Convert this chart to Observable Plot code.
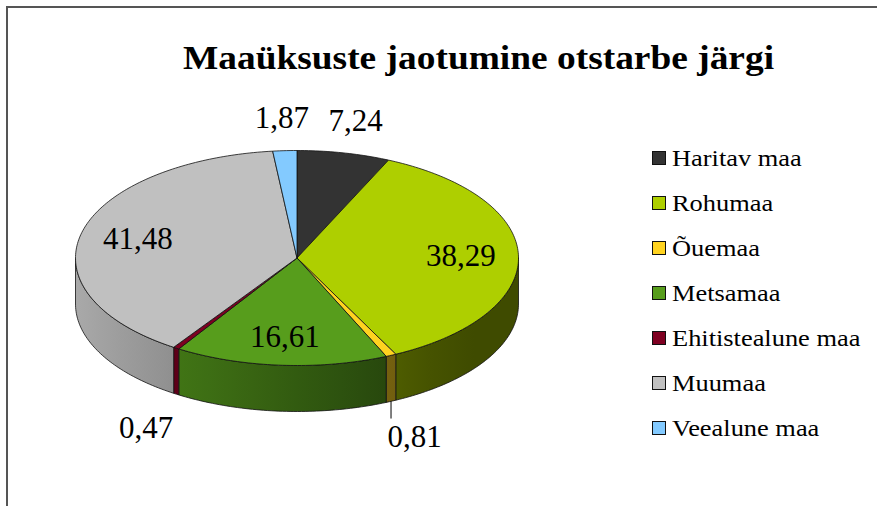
<!DOCTYPE html>
<html>
<head>
<meta charset="utf-8">
<script src="https://cdn.jsdelivr.net/npm/d3@7"></script>
<script src="https://cdn.jsdelivr.net/npm/@observablehq/plot@0.6"></script>
<style>
  html, body { margin: 0; padding: 0; background: #fff; }
  #page { position: relative; width: 877px; height: 506px; overflow: hidden; background: #fff; }
  #frame { position: absolute; left: 6px; top: 6px; width: 1000px; height: 1000px; border: 2px solid #555; box-sizing: border-box; }
  #title { position: relative; height: 95px; box-sizing: border-box; padding-top: 41px; width: 957px; text-align: center;
           font-family: "Liberation Serif", "DejaVu Serif", serif; font-weight: bold; font-size: 34px; line-height: 34px; color: #000;
           transform: scaleX(1.1); transform-origin: 478.5px 50%; }
  #chart { position: absolute; left: 0; top: 95px; }
  #legend { position: absolute; left: 652px; top: 135.5px; font-family: "Liberation Serif", "DejaVu Serif", serif; font-size: 24px; color: #000; }
  .item { display: flex; align-items: center; height: 45px; white-space: nowrap; }
  .item span { display: inline-block; transform: scaleX(1.1); transform-origin: 0 50%; }
  .sw { width: 14px; height: 14px; box-sizing: border-box; border: 1.5px solid #111; margin-right: 6px; }
</style>
</head>
<body>
<div id="page">
  <div id="frame"></div>
  <div id="title">Maaüksuste jaotumine otstarbe järgi</div>
  <div id="chart"></div>
  <div id="legend"></div>
</div>
<script>
// ---- data ----
const categories = ["Haritav maa", "Rohumaa", "Õuemaa", "Metsamaa", "Ehitistealune maa", "Muumaa", "Veealune maa"];
const values = [7.24, 38.29, 0.81, 16.61, 0.47, 41.48, 1.87];
const colors = ["#333333", "#aecf00", "#ffd320", "#579d1c", "#7e0021", "#c0c0c0", "#83caff"];
const leaderFor = ["Õuemaa"];

// ---- layout constants ----
const W = 877, H = 411;
const cx = 296.5, cy = 162.5, rx = 221.5, ry = 107.5, depthPx = 46;
const d = depthPx / ry;               // depth in y-units
const STEP = Math.PI / 180;
const serif = "Liberation Serif, DejaVu Serif, serif";

const fmt = v => v.toFixed(2).replace(".", ",");
const total = d3.sum(values);
const arcs = d3.pie().sort(null).value(v => v)(values);

function shade(hex, u) {
  const f = Math.max(0.36, Math.min(0.92, 0.58 - 0.3 * u));
  const c = d3.rgb(hex);
  return d3.rgb(c.r * f, c.g * f, c.b * f).formatHex();
}
function arcPts(a0, a1, dy) {
  const n = Math.max(1, Math.ceil((a1 - a0) / STEP));
  const pts = [];
  for (let i = 0; i <= n; i++) {
    const a = a0 + (a1 - a0) * i / n;
    pts.push([Math.sin(a), -Math.cos(a) + dy]);
  }
  return pts;
}

// side walls (front half: angles between pi/2 and 3pi/2), one polygon per slice with gradient fill
const sides = [], tops = [];
arcs.forEach((a, i) => {
  const s0 = Math.max(a.startAngle, Math.PI / 2), s1 = Math.min(a.endAngle, 3 * Math.PI / 2);
  if (s1 > s0) {
    const outline = [...arcPts(s0, s1, 0), ...arcPts(s0, s1, d).reverse()];
    outline.push(outline[0]);
    outline.forEach(([x, y]) => sides.push({id: "s" + i, x, y, color: `url(#side-grad-${i})`}));
  }
  const poly = [[0, 0], ...arcPts(a.startAngle, a.endAngle, 0), [0, 0]];
  poly.forEach(([x, y]) => tops.push({id: "t" + i, x, y, color: colors[i]}));
});

// labels
const labels = arcs.map((a, i) => {
  const m = (a.startAngle + a.endAngle) / 2;
  const share = values[i] / total;
  const outside = share < 0.1;
  let x = Math.sin(m) * (outside ? 1.25 : 0.74), y = -Math.cos(m) * (outside ? 1.3 : 0.74);
  if (outside && -Math.cos(m) > 0) y += d + 0.06;
  return {x, y, text: fmt(values[i]), m, name: categories[i]};
});
const leaders = labels.filter(l => leaderFor.includes(l.name)).map(l => ({
  x: Math.sin(l.m), y1: -Math.cos(l.m) + d, y2: -Math.cos(l.m) + d + 0.16
}));

const chart = Plot.plot({
  width: W, height: H,
  margin: 0,
  x: {domain: [-1, 1], range: [cx - rx, cx + rx], axis: null},
  y: {domain: [-1, 1], range: [cy - ry, cy + ry], axis: null},
  color: {type: "identity"},
  style: {background: "transparent"},
  marks: [
    Plot.line(sides, {x: "x", y: "y", z: "id", fill: "color", stroke: "#111", strokeWidth: 0.8, strokeLinejoin: "round"}),
    Plot.line(tops, {x: "x", y: "y", z: "id", fill: "color", stroke: "#111", strokeWidth: 0.8, strokeLinejoin: "round"}),
    Plot.link(leaders, {x1: "x", x2: "x", y1: "y1", y2: "y2", stroke: "#000", strokeWidth: 1}),
    Plot.text(labels, {x: "x", y: "y", text: "text", fontSize: 31, fontFamily: serif,
                       fill: "#000", textAnchor: "middle", lineAnchor: "middle"})
  ]
});

// gradient definitions for the side walls (horizontal, in pixel space across the pie)
const ns = "http://www.w3.org/2000/svg";
const defs = document.createElementNS(ns, "defs");
colors.forEach((c, i) => {
  const g = document.createElementNS(ns, "linearGradient");
  g.setAttribute("id", `side-grad-${i}`);
  g.setAttribute("gradientUnits", "userSpaceOnUse");
  g.setAttribute("x1", cx - rx); g.setAttribute("x2", cx + rx);
  g.setAttribute("y1", 0); g.setAttribute("y2", 0);
  for (let k = 0; k <= 10; k++) {
    const u = -1 + 2 * k / 10;
    const st = document.createElementNS(ns, "stop");
    st.setAttribute("offset", k / 10);
    st.setAttribute("stop-color", shade(c, u));
    g.appendChild(st);
  }
  defs.appendChild(g);
});
chart.insertBefore(defs, chart.firstChild);
document.getElementById("chart").appendChild(chart);

// legend
const legend = document.getElementById("legend");
categories.forEach((c, i) => {
  const it = document.createElement("div");
  it.className = "item";
  const sw = document.createElement("div");
  sw.className = "sw";
  sw.style.background = colors[i];
  const t = document.createElement("span");
  t.textContent = c;
  it.appendChild(sw); it.appendChild(t);
  legend.appendChild(it);
});
</script>
</body>
</html>
